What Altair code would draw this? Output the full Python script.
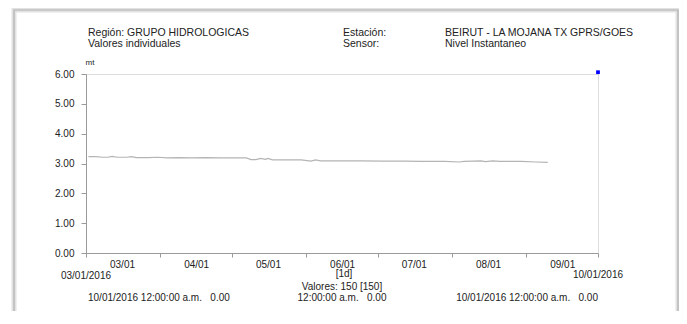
import altair as alt
import pandas as pd

# ---- data ----
dates = ["2016-03-02", "2016-03-05", "2016-03-08", "2016-03-10", "2016-03-12", "2016-03-14",
         "2016-03-18", "2016-03-20", "2016-03-22", "2016-03-27", "2016-03-31", "2016-04-04",
         "2016-04-09", "2016-04-14", "2016-04-20", "2016-04-26", "2016-05-02", "2016-05-07",
         "2016-05-09", "2016-05-11", "2016-05-13", "2016-05-15", "2016-05-16", "2016-05-18",
         "2016-05-24", "2016-05-30", "2016-06-03", "2016-06-05", "2016-06-07", "2016-06-15",
         "2016-06-24", "2016-07-03", "2016-07-12", "2016-07-19", "2016-07-29", "2016-08-04",
         "2016-08-06", "2016-08-13", "2016-08-15", "2016-08-18", "2016-08-21", "2016-08-30",
         "2016-09-05", "2016-09-10"]
levels = [3.23, 3.23, 3.21, 3.21, 3.24, 3.21,
          3.21, 3.23, 3.20, 3.20, 3.21, 3.19,
          3.20, 3.19, 3.20, 3.19, 3.19, 3.19,
          3.13, 3.13, 3.17, 3.14, 3.17, 3.12,
          3.12, 3.12, 3.08, 3.12, 3.09, 3.09,
          3.09, 3.08, 3.08, 3.07, 3.07, 3.05,
          3.07, 3.09, 3.06, 3.09, 3.07, 3.07,
          3.05, 3.04]
marker_dates = ["2016-10-01"]
marker_values = [6.06]

y_ticks = [0, 1, 2, 3, 4, 5, 6]
month_ticks = [3, 4, 5, 6, 7, 8, 9, 10]

header_left = ["Región: GRUPO HIDROLOGICAS", "Valores individuales"]
header_mid = ["Estación:", "Sensor:"]
header_right = ["BEIRUT - LA MOJANA TX GPRS/GOES", "Nivel Instantaneo"]
start_label = "03/01/2016"
end_label = "10/01/2016"
interval_label = "[1d]"
count_label = "Valores: 150 [150]"
nb = "\u00a0"
min_label = "10/01/2016 12:00:00 a.m." + nb * 3 + "0.00"
mid_label = "12:00:00 a.m." + nb * 3 + "0.00"
max_label = "10/01/2016 12:00:00 a.m." + nb * 3 + "0.00"

FONT = "Liberation Sans"
TXT = "#222222"

df = pd.DataFrame({"date": dates, "level": levels})
dm = pd.DataFrame({"date": marker_dates, "level": marker_values})

xdomain = [alt.DateTime(year=2016, month=3, date=1, utc=True),
           alt.DateTime(year=2016, month=10, date=1, utc=True)]
xvals = [alt.DateTime(year=2016, month=m, date=1, utc=True) for m in month_ticks]

xenc = alt.X("date:T",
             scale=alt.Scale(type="utc", domain=xdomain),
             axis=alt.Axis(values=xvals, grid=False, title=None,
                           labelExpr="utcmonth(datum.value) == 9 ? '' : utcFormat(datum.value, '%m/%d')",
                           labelOffset=36, labelPadding=2, tickSize=4,
                           labelFlush=False, labelOverlap=False,
                           labelFontSize=10, labelColor=TXT, labelFont=FONT,
                           domainColor="#9a9a9a", tickColor="#9a9a9a"))
yenc = alt.Y("level:Q",
             scale=alt.Scale(domain=[0, 6], nice=False, zero=True),
             axis=alt.Axis(values=y_ticks, format=".2f", grid=False,
                           labelOverlap=False, labelFlush=False,
                           title="mt", titleAngle=0, titleAlign="left", titleX=-1, titleY=-8,
                           titleFontSize=8, titleFontWeight="normal", titleColor=TXT, titleFont=FONT,
                           tickSize=5, labelPadding=7, labelFontSize=10, labelColor=TXT, labelFont=FONT,
                           domainColor="#9a9a9a", tickColor="#9a9a9a"))

line = alt.Chart(df).mark_line(color="#b4b4b4", strokeWidth=1.2).encode(x=xenc, y=yenc)
marker = alt.Chart(dm).mark_square(color="#0000ff", size=14, opacity=1).encode(x=xenc, y=yenc)


def txt(s, x, y, align="left", size=10.5):
    return alt.Chart(alt.Data(values=[{"t": s}])).mark_text(
        align=align, baseline="middle", fontSize=size, font=FONT, color=TXT
    ).encode(text="t:N", x=alt.value(x), y=alt.value(y))


frame_outer = alt.Chart(alt.Data(values=[{}])).mark_rect(
    fillOpacity=0, stroke="#e2e2e2", strokeWidth=5
).encode(x=alt.value(-72), x2=alt.value(592), y=alt.value(-64), y2=alt.value(249))
frame_inner = alt.Chart(alt.Data(values=[{}])).mark_rect(
    fillOpacity=0, stroke="#b0b0b0", strokeWidth=1.2
).encode(x=alt.value(-72), x2=alt.value(592), y=alt.value(-64), y2=alt.value(249))

texts = [
    txt(header_left[0], 2, -41), txt(header_left[1], 2, -30),
    txt(header_mid[0], 257, -41), txt(header_mid[1], 257, -30),
    txt(header_right[0], 359, -41), txt(header_right[1], 359, -30),
    txt(start_label, 0, 202, "center", 10), txt(end_label, 512, 201, "center", 10),
    txt(interval_label, 258, 200, "center", 10), txt(count_label, 256, 213, "center", 10),
    txt(min_label, 2, 224, "left", 10), txt(mid_label, 256, 224, "center", 10),
    txt(max_label, 512, 224, "right", 10),
]

chart = alt.layer(line, marker, frame_outer, frame_inner, *texts).properties(
    width=512, height=179,
    autosize=alt.AutoSizeParams(type="none"),
    padding={"left": 78, "top": 66, "right": 81, "bottom": 58},
    background="white",
).configure_view(strokeWidth=0).configure(font=FONT)

chart.save("out.html", embed_options={"renderer": "svg", "actions": False})
